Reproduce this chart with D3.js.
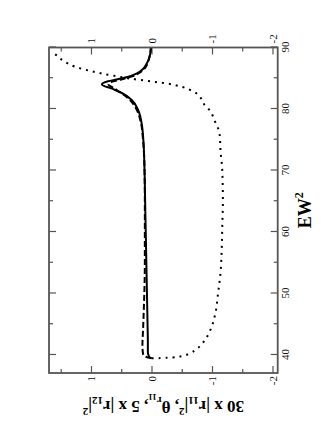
<!DOCTYPE html>
<html><head><meta charset="utf-8">
<script src="https://cdn.jsdelivr.net/npm/d3@7"></script>
<style>body{margin:0;background:#fff}</style>
</head><body>
<svg id="c" width="327" height="423"></svg>
<script>
// EW^2 axis ticks
const xMajor = [40, 50, 60, 70, 80, 90];
const xMinor = [45, 55, 65, 75, 85];
// value axis ticks
const yMajor = [1, 0, -1, -2];
const yMinor = [1.5, 0.5, -0.5, -1.5];

// solid: 30 x |r11|^2
const solidX = [39.45, 39.6, 40.0, 40.5, 42, 45, 50, 55, 60, 65, 70, 75, 77.5, 79.8, 81.5, 82.6, 83.3, 84.0, 84.5, 84.8, 85.2, 85.8, 86.5, 87.2, 88, 89, 89.9];
const solidY = [0.0, 0.03, 0.05, 0.06, 0.06, 0.065, 0.075, 0.085, 0.095, 0.105, 0.115, 0.135, 0.16, 0.22, 0.33, 0.49, 0.65, 0.82, 0.72, 0.58, 0.4, 0.24, 0.14, 0.09, 0.05, 0.02, 0.01];
// dashed: 5 x |r12|^2
const dashedX = [39.5, 39.6, 39.8, 40.2, 41.5, 44, 48, 55, 65, 70, 75, 78, 80, 81.5, 82.6, 83.4, 84.0, 84.4, 84.8, 85.3, 86, 86.6, 87.3, 88.2, 89.9];
const dashedY = [0.0, 0.06, 0.11, 0.14, 0.15, 0.14, 0.125, 0.11, 0.11, 0.115, 0.14, 0.18, 0.25, 0.36, 0.5, 0.62, 0.71, 0.66, 0.5, 0.32, 0.18, 0.11, 0.07, 0.04, 0.01];
// dotted: theta_r11
const dottedX = [39.45, 39.5, 39.6, 39.8, 40.2, 41, 42, 44, 46.5, 50, 53.3, 57, 61, 65, 70, 73.3, 75.5, 76.6, 77.7, 78.7, 79.7, 80.6, 81.4, 82.8, 83.6, 84.1, 84.4, 84.7, 85.0, 85.4, 85.8, 86.3, 86.9, 87.8, 88.8, 89.2];
const dottedY = [0.0, -0.15, -0.35, -0.5, -0.62, -0.75, -0.85, -0.97, -1.05, -1.10, -1.14, -1.16, -1.17, -1.18, -1.17, -1.14, -1.13, -1.11, -1.06, -1.02, -0.97, -0.88, -0.84, -0.70, -0.5, -0.28, -0.06, 0.17, 0.39, 0.62, 0.84, 1.06, 1.27, 1.45, 1.58, 1.64];

const svg = d3.select('#c');
const W = 325.5, H = 228.7;
const g = svg.append('g').attr('transform', 'translate(49,373) rotate(-90)');
const x = d3.scaleLinear().domain([37.07, 90]).range([0, W]);
const y = d3.scaleLinear().domain([-2.086, 1.694]).range([H, 0]);
const axisColor = '#555';
const font = 'Liberation Serif, Times New Roman, serif';
const fmt = d => String(d);

function styleAxis(sel) {
  sel.select('.domain').remove();
  sel.selectAll('line').attr('stroke', axisColor).attr('stroke-width', 1.2);
  sel.selectAll('text').attr('font-family', font).attr('font-size', 11).attr('fill', '#111');
}

// bottom (EW^2)
g.append('g').attr('transform', `translate(0,${H})`)
  .call(d3.axisBottom(x).tickValues(xMajor).tickSizeInner(-7).tickSizeOuter(0).tickPadding(4).tickFormat(fmt)).call(styleAxis);
g.append('g').attr('transform', `translate(0,${H})`)
  .call(d3.axisBottom(x).tickValues(xMinor).tickSizeInner(-4).tickSizeOuter(0).tickFormat('')).call(styleAxis);
// top
g.append('g')
  .call(d3.axisTop(x).tickValues(xMajor).tickSizeInner(-7).tickSizeOuter(0).tickFormat('')).call(styleAxis);
g.append('g')
  .call(d3.axisTop(x).tickValues(xMinor).tickSizeInner(-4).tickSizeOuter(0).tickFormat('')).call(styleAxis);
// left
g.append('g')
  .call(d3.axisLeft(y).tickValues(yMajor).tickSizeInner(-7).tickSizeOuter(0).tickPadding(3).tickFormat(fmt)).call(styleAxis);
g.append('g')
  .call(d3.axisLeft(y).tickValues(yMinor).tickSizeInner(-4).tickSizeOuter(0).tickFormat('')).call(styleAxis);
// right
g.append('g').attr('transform', `translate(${W},0)`)
  .call(d3.axisRight(y).tickValues(yMajor).tickSizeInner(-7).tickSizeOuter(0).tickPadding(4).tickFormat(fmt)).call(styleAxis);
g.append('g').attr('transform', `translate(${W},0)`)
  .call(d3.axisRight(y).tickValues(yMinor).tickSizeInner(-4).tickSizeOuter(0).tickFormat('')).call(styleAxis);

g.append('defs').append('clipPath').attr('id', 'clip')
  .append('rect').attr('width', W).attr('height', H);

const line = d3.line().x(d => x(d[0])).y(d => y(d[1])).curve(d3.curveMonotoneX);
const plot = g.append('g').attr('clip-path', 'url(#clip)');
plot.append('path').datum(d3.zip(dottedX, dottedY)).attr('d', line)
  .attr('fill', 'none').attr('stroke', '#000').attr('stroke-width', 2).attr('stroke-dasharray', '2,5');
plot.append('path').datum(d3.zip(dashedX, dashedY)).attr('d', line)
  .attr('fill', 'none').attr('stroke', '#000').attr('stroke-width', 2).attr('stroke-dasharray', '6,3');
plot.append('path').datum(d3.zip(solidX, solidY)).attr('d', line)
  .attr('fill', 'none').attr('stroke', '#000').attr('stroke-width', 2);

// frame
g.append('rect').attr('width', W).attr('height', H)
  .attr('fill', 'none').attr('stroke', axisColor).attr('stroke-width', 1.8);

// x label
const xl = g.append('text').attr('x', W / 2).attr('y', H + 33).attr('text-anchor', 'middle')
  .attr('font-family', font).attr('font-weight', 'bold').attr('font-size', 18);
xl.append('tspan').text('EW');
xl.append('tspan').attr('font-size', 12).attr('dy', -8).text('2');

// y label
const yl = g.append('text').attr('transform', `translate(-28,${H / 2}) rotate(-90)`)
  .attr('text-anchor', 'middle').attr('font-family', font).attr('font-weight', 'bold').attr('font-size', 17);
yl.append('tspan').text('30 x |r');
yl.append('tspan').attr('font-size', 11).attr('dy', 4).text('11');
yl.append('tspan').attr('dy', -4).text('|');
yl.append('tspan').attr('font-size', 11).attr('dy', -7).text('2');
yl.append('tspan').attr('dy', 7).text(', θ');
yl.append('tspan').attr('font-size', 11).attr('dy', 4).text('r');
yl.append('tspan').attr('font-size', 9).attr('dy', 3).text('11');
yl.append('tspan').attr('dy', -7).text(', 5 x |r');
yl.append('tspan').attr('font-size', 11).attr('dy', 4).text('12');
yl.append('tspan').attr('dy', -4).text('|');
yl.append('tspan').attr('font-size', 11).attr('dy', -7).text('2');
</script>
</body></html>
